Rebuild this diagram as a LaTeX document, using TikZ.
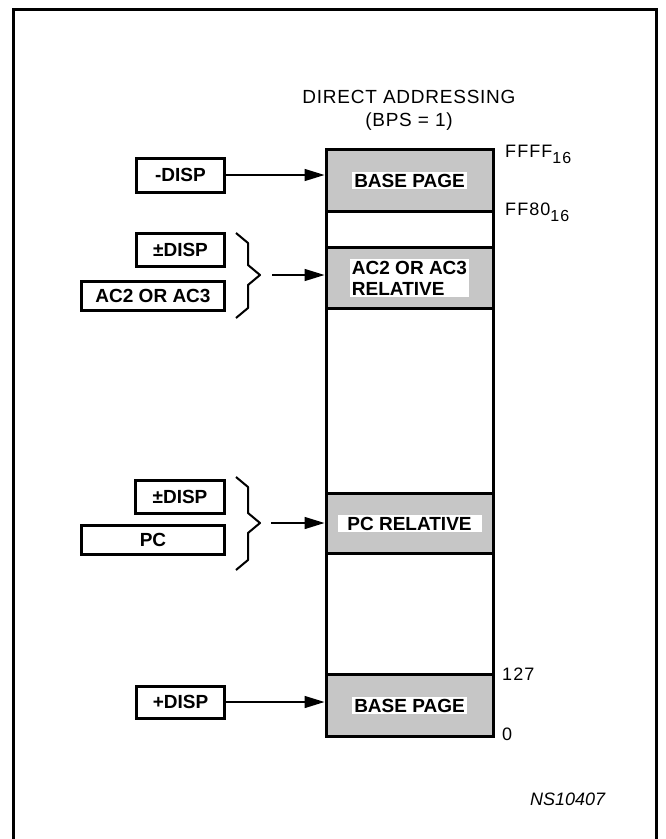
\documentclass[tikz,border=0pt]{standalone}
\usepackage{fontspec}
\setmainfont{Liberation Sans}
\usepackage{tikz}
\usetikzlibrary{arrows.meta}

\begin{document}
\begin{tikzpicture}[
  x=1pt, y=-1pt,
  every node/.style={font=\fontsize{19}{23}\selectfont\addfontfeatures{LetterSpace=4}},
  box/.style={rectangle, draw, line width=3pt, fill=white, anchor=east, inner sep=0pt, font=\fontsize{19}{21}\selectfont\bfseries},
  band/.style={rectangle, draw, line width=3pt, fill=gray!45, minimum width=167pt, inner sep=0pt, anchor=north},
  tag/.style={fill=white, inner sep=2pt, align=left, font=\fontsize{19}{21}\selectfont\bfseries},
  addr/.style={anchor=base west, inner sep=0pt, font=\fontsize{18}{20}\selectfont\addfontfeatures{LetterSpace=6}},
  brace/.style={line width=2pt, line join=round},
  arr/.style={-{Triangle[length=20pt,width=12pt]}, line width=1.5pt}
]
  \useasboundingbox (0,0) rectangle (665,839);
  \draw[line width=3pt] (13,850) -- (13,9) -- (656,9) -- (656,850);

  % memory column
  \node[band, fill=white, minimum height=587pt] (mem) at (409.5,148) {};
  \node[band, minimum height=62pt] (hi) at (409.5,148) {};
  \node[band, minimum height=61pt] (acr) at (409.5,246) {};
  \node[band, minimum height=60pt] (pcr) at (409.5,492) {};
  \node[band, minimum height=62pt] (lo) at (409.5,673) {};

  \node[tag] (hitag) at (hi) {BASE PAGE};
  \node[tag] (actag) at (acr) {AC2 OR AC3\\RELATIVE};
  \node[tag, minimum width=144pt] (pctag) at (pcr) {PC RELATIVE};
  \node[tag] (lotag) at (lo) {BASE PAGE};

  \node[inner sep=0pt, align=center] (title) at (409,110) {DIRECT ADDRESSING\\(BPS = 1)};

  \node[addr] (ffff) at (505,157) {FFFF\raisebox{-6pt}{\fontsize{16}{16}\selectfont 16}};
  \node[addr] (ff80) at (505,215) {FF80\raisebox{-6pt}{\fontsize{16}{16}\selectfont 16}};
  \node[addr] (n127) at (502,680) {127};
  \node[addr] (n0) at (502,740) {0};

  % operand boxes
  \node[box, minimum width=88pt, minimum height=34pt] (mdisp) at (226,175) {-DISP};
  \node[box, minimum width=88pt, minimum height=33pt] (adisp) at (226,249.5) {±DISP};
  \node[box, minimum width=143pt, minimum height=29pt] (acx) at (226,296) {AC2 OR AC3};
  \node[box, minimum width=89pt, minimum height=33pt] (pdisp) at (226,496.5) {±DISP};
  \node[box, minimum width=143pt, minimum height=29pt] (pc) at (226,539.5) {PC};
  \node[box, minimum width=88pt, minimum height=32pt] (pldisp) at (226,702) {+DISP};

  % braces
  \coordinate (b1) at (236,233);
  \draw[brace] (b1) -- ++(12,10) -- ++(0,22) -- ++(12,10) -- ++(-12,10) -- ++(0,23) -- ++(-12,10);
  \coordinate (b2) at (236,477);
  \draw[brace] (b2) -- ++(12,10) -- ++(0,26) -- ++(12,10) -- ++(-12,10) -- ++(0,27) -- ++(-12,10);
  \coordinate (t1) at (272,275);
  \coordinate (t2) at (271,523);

  \draw[arr] (mdisp.east) -- (mdisp.east -| hi.west);
  \draw[arr] (t1) -- (t1 -| acr.west);
  \draw[arr] (t2) -- (t2 -| pcr.west);
  \draw[arr] (pldisp.east) -- (pldisp.east -| lo.west);

  \node[addr, font=\fontsize{18}{20}\selectfont\itshape] (fig) at (530,805) {NS10407};
\end{tikzpicture}
\end{document}
